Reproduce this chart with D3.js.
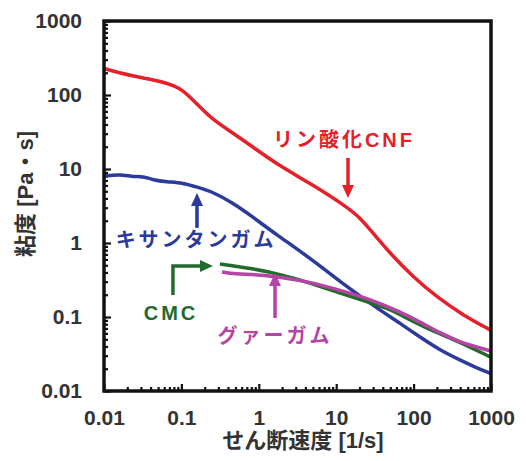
<html>
  <head>
    <style>
      body { margin: 0; background: #fff; }
      text { font-family: "Liberation Sans", "Noto Sans CJK JP", sans-serif; font-weight: bold; }
    </style>
  </head>
  <body>
    <script src="https://cdn.jsdelivr.net/npm/d3@7/dist/d3.min.js"></script>
    <script>
    var width = 526, height = 461;

    // shear rate [1/s], viscosity [Pa·s]
    var cnf = [[0.01, 228], [0.0161, 198], [0.0237, 181], [0.0393, 164], [0.065, 145], [0.096, 124],
      [0.129, 94], [0.174, 69], [0.256, 46], [0.464, 30.6], [0.84, 19.8], [1.8, 11.2], [5.0, 6.1],
      [13.8, 3.06], [20.3, 2.2], [29.9, 1.36], [49.5, 0.73], [98, 0.35], [200, 0.186], [434, 0.106], [1000, 0.066]];
    var xanthan = [[0.01, 8.0], [0.0161, 8.5], [0.0237, 7.8], [0.0319, 8.0], [0.0429, 7.1], [0.065, 6.7],
      [0.105, 6.47], [0.158, 5.71], [0.256, 4.89], [0.464, 3.47], [0.84, 2.24], [1.6, 1.35], [5.0, 0.589],
      [13.8, 0.254], [36.7, 0.124], [66, 0.083], [120, 0.0537], [218, 0.0358], [396, 0.0262], [655, 0.0205], [1000, 0.0172]];
    var cmc = [[0.315, 0.52], [0.77, 0.459], [2.06, 0.37], [4.58, 0.288], [11.2, 0.211], [25, 0.16],
      [45.3, 0.132], [66.7, 0.108], [163, 0.0667], [397, 0.0459], [1000, 0.0285]];
    var guar = [[0.335, 0.406], [0.464, 0.381], [1.28, 0.37], [3.4, 0.316], [9.1, 0.247], [25, 0.18],
      [66.7, 0.118], [121, 0.0855], [219, 0.0608], [397, 0.0459], [721, 0.0381], [1000, 0.0347]];

    var seriesNames = ["リン酸化CNF", "キサンタンガム", "CMC", "グァーガム"];
    var seriesColors = ["#e5202a", "#2c3a9b", "#226b2c", "#b544a6"];
    var decades = [0.01, 0.1, 1, 10, 100, 1000];
    var tickLabels = ["0.01", "0.1", "1", "10", "100", "1000"];

    // annotation anchors in data coordinates
    var labelPos = [[12.6, 19.8], [0.155, 0.883], [0.0734, 0.091], [1.62, 0.0446]];
    var arrows = [[[14.2, 14.1], [14.2, 4.05]], [[0.159, 1.6], [0.159, 4.74]],
      [[0.0778, 0.198], [0.0778, 0.489], [0.256, 0.489]], [[1.62, 0.097], [1.62, 0.394]]];

    var svg = d3.select("body").append("svg")
        .attr("width", width)
        .attr("height", height);

    var x = d3.scaleLog().domain([0.01, 1000]).range([104, 491]);
    var y = d3.scaleLog().domain([0.01, 1000]).range([391, 21]);

    var minor = [];
    decades.slice(0, -1).forEach(function(d) {
      for (var k = 2; k <= 9; k++) minor.push(d * k);
    });

    function fmt(d) { return tickLabels[decades.indexOf(d)]; }

    // minor ticks
    svg.append("g").attr("transform", "translate(" + x.range()[0] + ",0)")
      .call(d3.axisLeft(y).tickValues(minor).tickSize(-4).tickFormat(""));
    svg.append("g").attr("transform", "translate(0," + y.range()[0] + ")")
      .call(d3.axisBottom(x).tickValues(minor).tickSize(-4).tickFormat(""));
    // major ticks + labels
    svg.append("g").attr("class", "yax").attr("transform", "translate(" + x.range()[0] + ",0)")
      .call(d3.axisLeft(y).tickValues(decades).tickSize(-7).tickPadding(22).tickFormat(fmt));
    svg.append("g").attr("class", "xax").attr("transform", "translate(0," + y.range()[0] + ")")
      .call(d3.axisBottom(x).tickValues(decades).tickSize(-7).tickPadding(19).tickFormat(fmt));

    svg.selectAll(".domain").remove();
    svg.selectAll(".tick line").attr("stroke", "#111").attr("stroke-width", 2.2);
    svg.selectAll(".tick text").style("font-size", "21px").attr("fill", "#333");

    var line = d3.line()
        .x(function(d) { return x(d[0]); })
        .y(function(d) { return y(d[1]); })
        .curve(d3.curveBasis);

    [cnf, xanthan, cmc, guar].forEach(function(s, i) {
      svg.append("path")
        .attr("d", line(s))
        .attr("fill", "none")
        .attr("stroke", seriesColors[i])
        .attr("stroke-width", 3.5)
        .attr("stroke-linejoin", "round");
    });

    // frame
    svg.append("rect")
      .attr("x", x.range()[0]).attr("y", y.range()[1])
      .attr("width", x.range()[1] - x.range()[0])
      .attr("height", y.range()[0] - y.range()[1])
      .attr("fill", "none").attr("stroke", "#111").attr("stroke-width", 3.5);

    // annotation arrows
    arrows.forEach(function(a, i) {
      var pts = a.map(function(p) { return [x(p[0]), y(p[1])]; });
      var n = pts.length, p1 = pts[n - 2], p2 = pts[n - 1];
      var ang = Math.atan2(p2[1] - p1[1], p2[0] - p1[0]);
      var L = 13, W = 6;
      var bx = p2[0] - L * Math.cos(ang), by = p2[1] - L * Math.sin(ang);
      var shaft = pts.slice(0, -1).concat([[bx, by]]);
      svg.append("path")
        .attr("d", d3.line()(shaft))
        .attr("fill", "none").attr("stroke", seriesColors[i]).attr("stroke-width", 3.5);
      svg.append("path")
        .attr("d", d3.line()([p2,
          [bx + W * Math.sin(ang), by - W * Math.cos(ang)],
          [bx - W * Math.sin(ang), by + W * Math.cos(ang)]]) + "Z")
        .attr("fill", seriesColors[i]);
    });

    // series labels
    seriesNames.forEach(function(t, i) {
      svg.append("text")
        .attr("x", x(labelPos[i][0]))
        .attr("y", y(labelPos[i][1]))
        .attr("text-anchor", "middle")
        .style("font-size", "20px")
        .style("letter-spacing", "3px")
        .attr("fill", seriesColors[i])
        .text(t);
    });

    // axis titles
    svg.append("text")
      .attr("x", 303).attr("y", 448)
      .attr("text-anchor", "middle")
      .style("font-size", "22px")
      .attr("fill", "#333")
      .text("せん断速度 [1/s]");

    svg.append("text")
      .attr("transform", "translate(33,194) rotate(-90)")
      .attr("text-anchor", "middle")
      .style("font-size", "22px")
      .attr("fill", "#333")
      .text("粘度 [Pa・s]");
    </script>
  </body>
</html>
